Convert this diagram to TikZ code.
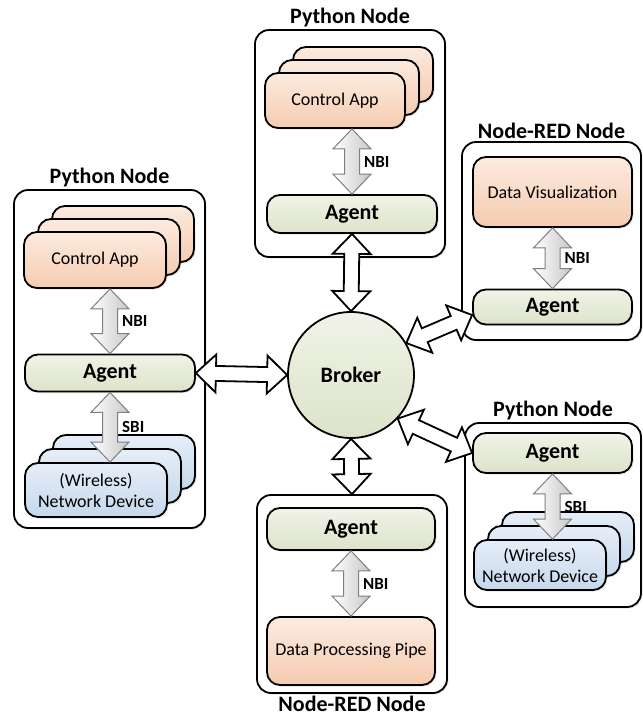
\documentclass[tikz,border=0pt]{standalone}
\usepackage{fontspec}
\setmainfont{Carlito}
\usetikzlibrary{positioning,calc,shadows}

\definecolor{appTop}{HTML}{FCEBE0}
\definecolor{appBot}{HTML}{F5CBAF}
\definecolor{agtTop}{HTML}{F0F3E7}
\definecolor{agtBot}{HTML}{DCE3C9}
\definecolor{devTop}{HTML}{E6EEF8}
\definecolor{devBot}{HTML}{C5D8ED}
\definecolor{ifGray}{HTML}{7F7F7F}

\tikzset{
  hostbox/.style={draw, line width=1.8pt, rounded corners=14pt, fill=white, inner sep=0pt,
    drop shadow={opacity=0.2, shadow xshift=1.5pt, shadow yshift=-1.5pt}},
  box/.style={draw, line width=1.8pt, rounded corners=13pt, inner sep=0pt,
    drop shadow={opacity=0.2, shadow xshift=1.5pt, shadow yshift=-1.5pt}},
  app/.style={box, top color=appTop, bottom color=appBot, font=\fontsize{18}{21}\selectfont},
  agent/.style={box, top color=agtTop, bottom color=agtBot, font=\fontsize{22}{26}\selectfont\bfseries},
  device/.style={box, top color=devTop, bottom color=devBot, font=\fontsize{18}{21}\selectfont, align=center},
  title/.style={font=\fontsize{22}{26}\selectfont\bfseries, inner sep=1pt},
  iflabel/.style={font=\fontsize{17}{20}\selectfont\bfseries, inner sep=0pt, anchor=west},
  bigarr/.style={draw, line width=1.8pt, fill=white, line join=miter},
  ifarr/.style={draw=ifGray, line width=1pt, left color=white, right color=black!22},
}

% outlined double arrow between two points
\newcommand{\fatarrow}[3][bigarr]{%
  \draw[#1] (#2) -- ($(#2)!20pt!(#3)!19pt!90:(#3)$) -- ($(#2)!20pt!(#3)!7.5pt!90:(#3)$)
    -- ($(#3)!20pt!(#2)!7.5pt!-90:(#2)$) -- ($(#3)!20pt!(#2)!19pt!-90:(#2)$) -- (#3)
    -- ($(#3)!20pt!(#2)!19pt!90:(#2)$) -- ($(#3)!20pt!(#2)!7.5pt!90:(#2)$)
    -- ($(#2)!20pt!(#3)!7.5pt!-90:(#3)$) -- ($(#2)!20pt!(#3)!19pt!-90:(#3)$) -- cycle;}

\begin{document}
\begin{tikzpicture}[x=1pt, y=-1pt]
    \useasboundingbox (0,0) rectangle (643,724);

    % host boxes
    \node[hostbox, minimum width=190pt, minimum height=227pt] (PyTBox) at (350,143.5) {};
    \node[hostbox, minimum width=191pt, minimum height=338pt] (PyLBox) at (109.5,359) {};
    \node[hostbox, minimum width=179pt, minimum height=198pt] (RTopBox) at (551.5,241) {};
    \node[hostbox, minimum width=176pt, minimum height=184pt] (PyRBox) at (553,515) {};
    \node[hostbox, minimum width=190pt, minimum height=198pt] (RBotBox) at (352,594) {};

    \node[title, above=1pt of PyTBox] (PyTTitle) {Python Node};
    \node[title, above=1pt of PyLBox] (PyLTitle) {Python Node};
    \node[title, above=1pt of RTopBox] (RTopTitle) {Node-RED Node};
    \node[title, above=1pt of PyRBox] (PyRTitle) {Python Node};
    \node[title, below=1pt of RBotBox] (RBotTitle) {Node-RED Node};

    % top python node
    \foreach \k in {2,1}
        \node[app, minimum width=140pt, minimum height=55pt] (AppT\k) at ($(335,100.5)+(\k*14,-\k*13)$) {};
    \node[app, minimum width=140pt, minimum height=55pt] (AppT) at (335,100.5) {Control App};
    \node[agent, minimum width=170pt, minimum height=38pt] (AgentT) at (352,214) {Agent};

    % left python node
    \foreach \k in {2,1}
        \node[app, minimum width=142pt, minimum height=56pt] (AppL\k) at ($(95,260)+(\k*14,-\k*13)$) {};
    \node[app, minimum width=142pt, minimum height=56pt] (AppL) at (95,260) {Control App};
    \node[agent, minimum width=170pt, minimum height=37pt] (AgentL) at (110,373) {Agent};
    \foreach \k in {2,1}
        \node[device, minimum width=142pt, minimum height=54pt] (DevL\k) at ($(96,490)+(\k*14,-\k*14)$) {};
    \node[device, minimum width=142pt, minimum height=54pt] (DevL) at (96,490) {(Wireless)\\Network Device};

    % upper right node-red node
    \node[app, minimum width=159pt, minimum height=70pt] (DataVis) at (552.5,192) {Data Visualization};
    \node[agent, minimum width=159pt, minimum height=35pt] (AgentR) at (552.5,307) {Agent};

    % lower right python node
    \node[agent, minimum width=159pt, minimum height=40pt] (AgentP) at (552.5,453) {Agent};
    \foreach \k in {2,1}
        \node[device, minimum width=132pt, minimum height=50pt] (DevP\k) at ($(540,565)+(\k*14,-\k*14)$) {};
    \node[device, minimum width=132pt, minimum height=50pt] (DevP) at (540,565) {(Wireless)\\Network Device};

    % bottom node-red node
    \node[agent, minimum width=168pt, minimum height=42pt] (AgentB) at (351,529) {Agent};
    \node[app, minimum width=168pt, minimum height=68pt] (Pipe) at (351,651) {Data Processing Pipe};

    % broker
    \node[circle, draw, line width=1.8pt, minimum size=126pt, top color=agtTop, bottom color=agtBot,
          font=\fontsize{22}{26}\selectfont\bfseries] (Brk) at (351,375) {Broker};

    % NBI / SBI
    \coordinate (nT) at (AppT.south -| AgentT.north);
    \fatarrow[ifarr]{nT}{AgentT.north}
    \node[iflabel] (nbiT) at ($(nT)!0.5!(AgentT.north)+(12,0)$) {NBI};

    \coordinate (nL) at (AppL.south -| AgentL.north);
    \fatarrow[ifarr]{nL}{AgentL.north}
    \node[iflabel] (nbiL) at ($(nL)!0.5!(AgentL.north)+(12,0)$) {NBI};

    \coordinate (sL) at (DevL.north -| AgentL.south);
    \fatarrow[ifarr]{AgentL.south}{sL}
    \node[iflabel] (sbiL) at ($(AgentL.south)!0.5!(sL)+(12,0)$) {SBI};

    \fatarrow[ifarr]{DataVis.south}{AgentR.north}
    \node[iflabel] (nbiR) at ($(DataVis.south)!0.5!(AgentR.north)+(12,0)$) {NBI};

    \coordinate (sP) at (DevP.north -| AgentP.south);
    \fatarrow[ifarr]{AgentP.south}{sP}
    \node[iflabel] (sbiP) at ($(AgentP.south)!0.5!(sP)+(12,0)$) {SBI};

    \fatarrow[ifarr]{AgentB.south}{Pipe.north}
    \node[iflabel] (nbiB) at ($(AgentB.south)!0.5!(Pipe.north)+(12,0)$) {NBI};

    % broker links
    \coordinate (rT) at ($(AgentR.west)+(0,8)$);
    \fatarrow{AgentT.south}{Brk.north}
    \fatarrow{AgentL.east}{Brk.west}
    \fatarrow{Brk.30}{rT}
    \fatarrow{Brk.-43}{AgentP.west}
    \fatarrow{Brk.south}{RBotBox.north}
\end{tikzpicture}
\end{document}
